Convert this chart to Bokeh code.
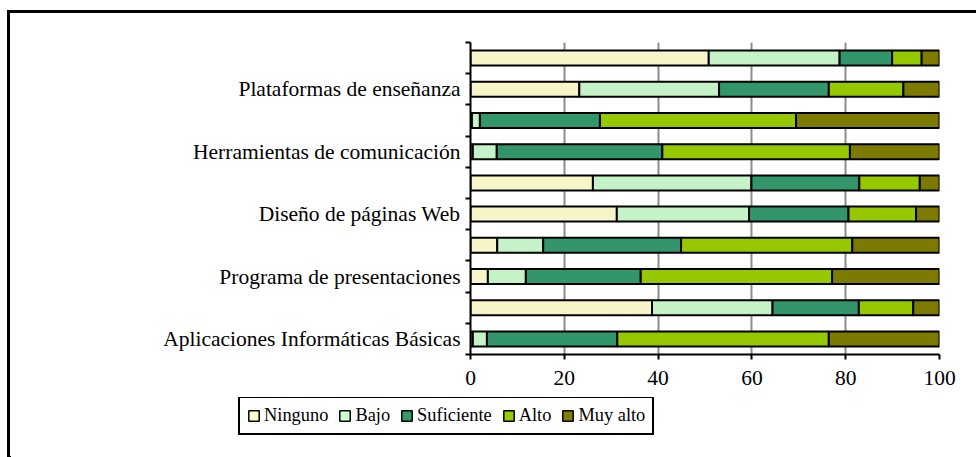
from bokeh.plotting import figure
from bokeh.layouts import column, row
from bokeh.models import FixedTicker, Legend, LegendItem, Range1d, ColumnDataSource
from bokeh.embed import file_html
from bokeh.resources import INLINE

# Categories from bottom to top (only every other one carries a visible label)
categories = ["Aplicaciones Informáticas Básicas", "", "Programa de presentaciones", "",
              "Diseño de páginas Web", "", "Herramientas de comunicación", "",
              "Plataformas de enseñanza", ""]
positions = [1, 2, 3, 4, 5, 6, 7, 8, 9, 10]

series_names = ["Ninguno", "Bajo", "Suficiente", "Alto", "Muy alto"]
ninguno    = [0.5, 38.7, 3.7, 5.7, 31.2, 26.1, 0.5, 0.3, 23.2, 50.8]
bajo       = [3.0, 25.7, 8.1, 9.8, 28.2, 33.8, 5.1, 1.7, 29.8, 27.9]
suficiente = [27.8, 18.4, 24.5, 29.4, 21.2, 23.0, 35.3, 25.6, 23.4, 11.2]
alto       = [45.1, 11.6, 40.8, 36.5, 14.4, 12.9, 40.0, 41.8, 15.9, 6.3]
muy_alto   = [23.6, 5.6, 22.9, 18.6, 5.0, 4.2, 19.1, 30.6, 7.7, 3.8]

x_ticks = [0, 20, 40, 60, 80, 100]

colors = ["#F7F5C8", "#C6F2C8", "#33966A", "#96C800", "#7C7A00"]
legend_colors = ["#FFFFCC", "#CCFFCC", "#339966", "#99CC00", "#808000"]
FONT = "Liberation Serif"
FS = "21.5px"
LFS = "18.4px"

source = ColumnDataSource(dict(y=positions, Ninguno=ninguno, Bajo=bajo,
                               Suficiente=suficiente, Alto=alto, **{"Muy alto": muy_alto}))

W = 966
p = figure(width=W, height=384, output_backend="svg", toolbar_location=None,
           x_range=Range1d(0, 100), y_range=Range1d(0.5, 10.5),
           min_border_left=460, min_border_right=W - 460 - 469, min_border_top=29, min_border_bottom=43)
p.outline_line_color = None
p.background_fill_color = "white"
p.border_fill_color = "white"

renderers = p.hbar_stack(series_names, y="y", height=0.48, color=colors, source=source,
                         line_color="black", line_width=2)

# grid
p.xgrid.ticker = FixedTicker(ticks=x_ticks)
p.xgrid.grid_line_color = "#8C8C8C"
p.xgrid.grid_line_width = 2
p.ygrid.grid_line_color = None

# x axis
xa = p.xaxis[0]
xa.ticker = FixedTicker(ticks=x_ticks)
xa.axis_line_color = "black"
xa.axis_line_width = 2
xa.major_tick_out = 5
xa.major_tick_in = 0
xa.major_tick_line_width = 2
xa.minor_tick_line_color = None
xa.major_label_text_font = FONT
xa.major_label_text_font_size = FS
xa.major_label_text_color = "black"
xa.major_label_standoff = 11

# y axis
ya = p.yaxis[0]
label_ticks = [pos for pos, c in zip(positions, categories) if c]
ya.ticker = FixedTicker(ticks=label_ticks, minor_ticks=[v + 0.5 for v in range(0, 11)])
ya.major_label_overrides = {pos: c for pos, c in zip(positions, categories) if c}
ya.axis_line_color = "black"
ya.axis_line_width = 2
ya.major_tick_out = 0
ya.major_tick_in = 0
ya.minor_tick_out = 5
ya.minor_tick_in = 0
ya.minor_tick_line_color = "black"
ya.minor_tick_line_width = 2
ya.major_label_text_font = FONT
ya.major_label_text_font_size = FS
ya.major_label_text_color = "black"
ya.major_label_standoff = 5

# legend figure (the same series, kept far outside its visible ranges, only feed the legend)
p2 = figure(width=W, height=60, output_backend="svg", toolbar_location=None,
            x_range=Range1d(200, 300), y_range=Range1d(20, 21),
            min_border_left=0, min_border_right=0, min_border_top=0, min_border_bottom=0)
p2.axis.visible = False
p2.grid.visible = False
p2.outline_line_color = None
p2.background_fill_color = "white"
p2.border_fill_color = "white"
swatches = p2.hbar_stack(series_names, y="y", height=0.48, color=legend_colors, source=source,
                         line_color="black", line_width=1.5)

legend = Legend(items=[LegendItem(label=n, renderers=[r]) for n, r in zip(series_names, swatches)],
                orientation="horizontal", location=(228, 22),
                glyph_width=13, glyph_height=13, label_standoff=4, spacing=10,
                padding=7, margin=0,
                label_text_font=FONT, label_text_font_size=LFS, label_text_color="black",
                border_line_color="black", border_line_width=2, border_line_alpha=1,
                background_fill_alpha=1)
p2.add_layout(legend, "center")

inner = row(p2, spacing=0)
inner.styles = {"border": "0px none"}
layout = column(p, inner, spacing=0)
layout.styles = {"border-top": "3px solid black", "border-left": "3px solid black",
                 "margin-left": "7px", "margin-top": "10px"}

open("out.html", "w").write(file_html(layout, INLINE))
